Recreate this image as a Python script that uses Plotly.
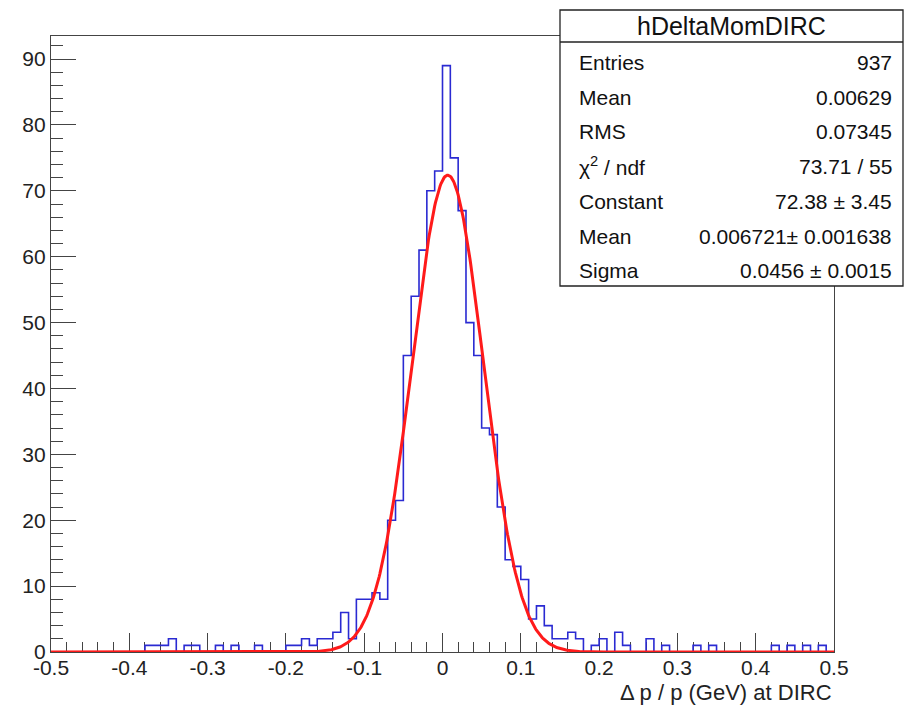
import numpy as np
import plotly.graph_objects as go

# ---------------- data ----------------
bin_lo, bin_hi, n_bins = -0.5, 0.5, 100
counts = [
    0, 0, 0, 0, 0, 0, 0, 0, 0, 0,        # -0.50 .. -0.41
    0, 0, 1, 1, 1, 2, 0, 1, 1, 0,        # -0.40 .. -0.31
    0, 1, 0, 1, 0, 0, 1, 0, 0, 0,        # -0.30 .. -0.21
    1, 1, 2, 1, 2, 2, 3, 6, 2, 8,        # -0.20 .. -0.11
    8, 9, 8, 20, 23, 45, 54, 61, 70, 73, # -0.10 .. -0.01
    89, 75, 67, 50, 45, 34, 33, 22, 14, 13,  # 0.00 .. 0.09
    11, 5, 7, 4, 2, 2, 3, 2, 0, 1,       # 0.10 .. 0.19
    2, 0, 3, 1, 0, 0, 2, 0, 1, 0,        # 0.20 .. 0.29
    0, 0, 1, 0, 1, 0, 0, 0, 0, 0,        # 0.30 .. 0.39
    0, 0, 1, 0, 1, 0, 1, 0, 1, 0,        # 0.40 .. 0.49
]

fit_constant = 72.38
fit_mean = 0.006721
fit_sigma = 0.0456

stats_title = "hDeltaMomDIRC"
stats_labels = ["Entries", "Mean", "RMS", "χ<sup>2</sup> / ndf", "Constant", "Mean", "Sigma"]
stats_values = ["937", "0.00629", "0.07345", "73.71 / 55", "72.38 ± 3.45",
                "0.006721± 0.001638", "0.0456 ± 0.0015"]

x_tickvals = [-0.5, -0.4, -0.3, -0.2, -0.1, 0.0, 0.1, 0.2, 0.3, 0.4, 0.5]
x_ticktext = ["-0.5", "-0.4", "-0.3", "-0.2", "-0.1", "0", "0.1", "0.2", "0.3", "0.4", "0.5"]
y_tickvals = [0, 10, 20, 30, 40, 50, 60, 70, 80, 90]
y_ticktext = ["0", "10", "20", "30", "40", "50", "60", "70", "80", "90"]
x_title = "Δ p / p (GeV) at DIRC"

# ---------------- figure ----------------
W, H = 905, 709
L, R, T, B = 51, 71, 36, 57
PW, PH = W - L - R, H - T - B

def px(X):
    return (X - L) / PW

def py(Y):
    return (T + PH - Y) / PH

edges = np.linspace(bin_lo, bin_hi, n_bins + 1)
hist_y = list(counts) + [counts[-1]]

xf = np.linspace(bin_lo, bin_hi, 1001)
yf = fit_constant * np.exp(-0.5 * ((xf - fit_mean) / fit_sigma) ** 2)

FONT = "Liberation Sans, Arial, Helvetica, sans-serif"
AXC = "#444444"
TXC = "#222222"

fig = go.Figure()
fig.add_trace(go.Scatter(x=edges, y=hist_y, mode="lines", line_shape="hv",
                         line=dict(color="#2a2ad2", width=1.6), hoverinfo="skip"))
fig.add_trace(go.Scatter(x=xf, y=yf, mode="lines",
                         line=dict(color="#ff1a1a", width=3), hoverinfo="skip"))

fig.update_layout(
    width=W, height=H,
    margin=dict(l=L, r=R, t=T, b=B, pad=0),
    paper_bgcolor="white", plot_bgcolor="white",
    showlegend=False,
    font=dict(family=FONT, color=TXC),
)
fig.update_xaxes(
    range=[bin_lo, bin_hi], showgrid=False, zeroline=False,
    showline=True, mirror=True, linecolor=AXC, linewidth=1.3,
    ticks="inside", ticklen=19, tickwidth=1.2, tickcolor=AXC,
    tickmode="array", tickvals=x_tickvals, ticktext=x_ticktext,
    tickfont=dict(size=21, family=FONT, color=TXC),
    ticklabelstandoff=-3,
    minor=dict(tickmode="linear", tick0=-0.5, dtick=0.02, ticks="inside",
               ticklen=10, tickwidth=1.2, tickcolor=AXC, showgrid=False),
    layer="below traces",
)
fig.update_yaxes(
    range=[0, 93.5], showgrid=False, zeroline=False,
    showline=True, mirror=True, linecolor=AXC, linewidth=1.3,
    ticks="inside", ticklen=25, tickwidth=1.2, tickcolor=AXC,
    tickmode="array", tickvals=y_tickvals, ticktext=y_ticktext,
    tickfont=dict(size=21, family=FONT, color=TXC),
    minor=dict(tickmode="linear", tick0=0, dtick=2, ticks="inside",
               ticklen=12, tickwidth=1.2, tickcolor=AXC, showgrid=False),
    layer="below traces",
)

# axis title (right aligned, ROOT style)
fig.add_annotation(xref="paper", yref="paper", x=px(834), y=py(692),
                   xanchor="right", yanchor="middle", showarrow=False,
                   text=x_title, font=dict(size=22, family=FONT, color=TXC))

# stats box
box_l, box_r, box_t, box_b, box_sep = 560, 903, 10, 286, 42
fig.add_shape(type="rect", xref="paper", yref="paper",
              x0=px(box_l), x1=px(box_r), y0=py(box_b), y1=py(box_t),
              fillcolor="white", line=dict(color="#222222", width=1.3), layer="above")
fig.add_shape(type="line", xref="paper", yref="paper",
              x0=px(box_l), x1=px(box_r), y0=py(box_sep), y1=py(box_sep),
              line=dict(color="#222222", width=1.3), layer="above")
fig.add_annotation(xref="paper", yref="paper", x=px((box_l + box_r) / 2), y=py(26),
                   xanchor="center", yanchor="middle", showarrow=False,
                   text=stats_title, font=dict(size=25, family=FONT, color="#111111"))
row_y = [62, 97, 131, 166, 201, 236, 270]
for lab, val, yy in zip(stats_labels, stats_values, row_y):
    fig.add_annotation(xref="paper", yref="paper", x=px(577), y=py(yy),
                       xanchor="left", yanchor="middle", showarrow=False,
                       text=lab, font=dict(size=21, family=FONT, color="#111111"))
    fig.add_annotation(xref="paper", yref="paper", x=px(894), y=py(yy),
                       xanchor="right", yanchor="middle", showarrow=False,
                       text=val, font=dict(size=21, family=FONT, color="#111111"))

fig.write_html("out.html")
